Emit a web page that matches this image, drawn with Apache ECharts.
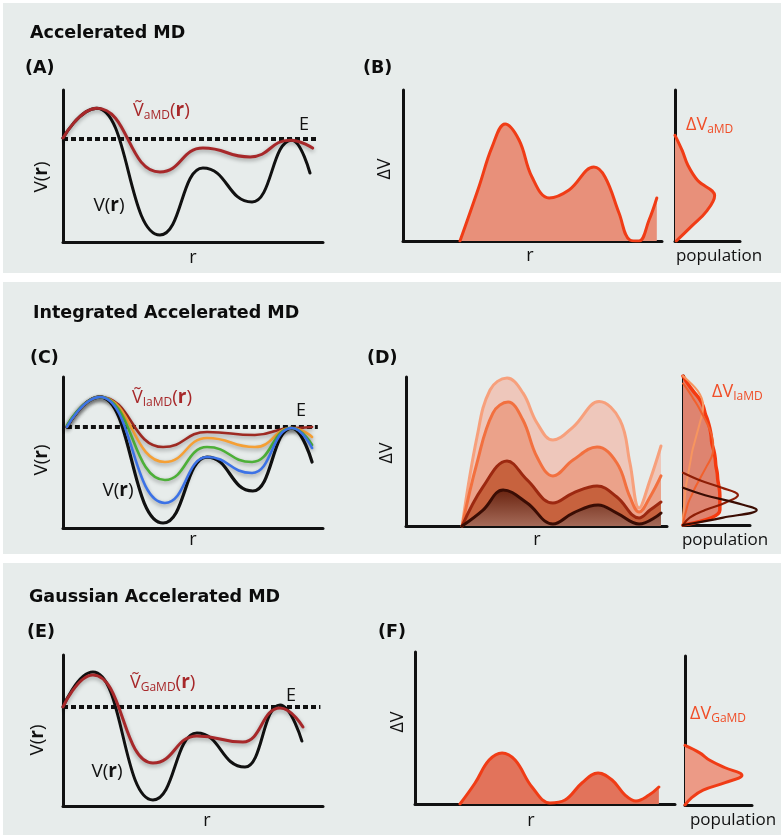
<!DOCTYPE html>
<html><head><meta charset="utf-8">
<script src="https://cdn.jsdelivr.net/npm/echarts@6/dist/echarts.min.js"></script>
<style>html,body{margin:0;padding:0;background:#fff}#c{width:784px;height:837px}</style>
</head><body><div id="c"></div>
<script>
// ---------- DATA (schematic values, axis units 0..100) ----------
// Panel A: Accelerated MD (extrema of the potential curves)
const aV    = [[0,68.4],[13,88],[37.3,4.6],[53.8,48.7],[72.7,26.3],[88,67],[95,45.4]];
const aAMD  = [[0,68.4],[13,88],[37.3,46],[53.8,61.8],[72,56],[87.3,67],[96,61.8]];
const aE    = [[0,67.8],[98,67.8]];
// Panel B: boost potential and its distribution
const bDV   = [[22,0],[29.3,35.8],[34.4,62.3],[39.4,77.5],[44.8,66.9],[49.8,42.4],[56.4,28.5],[64.1,33.8],[73.7,49],[78,42.4],[83.4,18.5],[87.6,0.7],[91.1,0],[95,13.9],[98,28.5]];
const bLevels = ['0','1','2','3','4','5','6','7','8','9','10'];
const bPop  = [2,26,49,61,35,20,11,0,null,null,null];
// Panel C: Integrated Accelerated MD
const cV      = [[1.5,66.9],[14.2,86.8],[38.5,3.3],[55.4,47],[73,24.5],[88,66.2],[95.8,43.7]];
const cBlue   = [[1.5,66.9],[14.2,86.8],[39.2,16.6],[55.4,47],[72.7,36.4],[88,66.2],[95.8,53]];
const cGreen  = [[1.5,68],[14.2,86.8],[39.2,31.8],[55.4,53.6],[72.7,43.7],[88,66.2],[95.8,55]];
const cOrange = [[1.5,66.9],[14.2,86.8],[39.2,43.7],[55.4,59.6],[73.8,53.6],[88,66.2],[95.8,60.3]];
const cRed    = [[1.5,66.9],[14.2,86.8],[38.5,53.6],[55.4,63.6],[73.8,61.6],[88,66.2],[95.8,66.9]];
const cE      = [[1.5,66.9],[98,66.9]];
// Panel D: stacked boost potentials and distributions
const dL1 = [[21.5,0],[27.2,59.7],[32.2,91.3],[38.7,99.3],[44.8,89.3],[50.2,69.1],[56.3,57.7],[64,66.4],[74,83.5],[82,71.1],[85.8,42.3],[89.3,12.1],[93.5,30.9],[97.7,53.7]];
const dL2 = [[21.5,0],[27.2,42.3],[33.3,75.8],[39.1,83.2],[44.8,71.1],[50.2,46.3],[56.3,33.6],[64,44.3],[73.2,53],[80.8,42.3],[85.8,19.5],[89.3,9.4],[93.5,19.5],[97.7,33.6]];
const dL3 = [[21.5,0],[29.5,26.2],[38.7,43.6],[46.4,30.9],[56.3,15.4],[64,22.1],[73.2,26.8],[80.8,19.5],[89.3,5.4],[93.5,10.7],[97.7,16.1]];
const dL4 = [[21.5,0],[29.5,10.7],[37.2,24.2],[46.4,15.4],[56.3,1.3],[64,8.7],[73.6,14.1],[80.8,8.7],[89.3,1.3],[97.7,8.7]];
const dLevels = ['0','1','2','3','4','5','6','7','8','9','10','11','12','13','14','15','16','17','18','19','20'];
const dPopAll = [0,43,55,55,55,54,52,51,49,48,46,43,42,40,37,33,30,24,15,7,0];
const dPop1   = [0,0,1,2,3,4,6,8,10,12,14,17,20,23,26,29,30,28,22,12,0];
const dPop2   = [0,2,5,8,13,18,24,30,36,42,45,45,43,39,34,28,22,15,8,0,null];
const dPop3   = [0,10,33,63,82,58,25,0,null,null,null,null,null,null,null,null,null,null,null,null,null];
const dPop4   = [0,60,110,78,33,0,null,null,null,null,null,null,null,null,null,null,null,null,null,null,null];
// Panel E: Gaussian Accelerated MD
const eV    = [[0,65.6],[11.5,88.7],[34.6,4],[51.5,48.3],[70,25.8],[83.5,66.9],[91.9,43]];
const eGaMD = [[0,65.6],[11.5,86.8],[34.6,28.5],[51.5,46.4],[69.2,42.4],[83.5,64.9],[92.3,52.3]];
const eE    = [[0,65.6],[99,65.6]];
// Panel F
const fDV   = [[17.3,0],[23.1,13.8],[28.5,28.9],[33.5,33.6],[38.5,28.9],[45,11.2],[51.9,0.7],[57.7,2.6],[64.2,13.8],[70.4,20.4],[75.8,15.8],[80.8,5.9],[85,2],[90,5.9],[93.8,11.2]];
const fLevels = ['0','1','2','3','4','5','6','7','8','9','10','11','12','13','14','15','16','17','18','19','20'];
const fPop  = [0,10,27,60,85,60,37,22,0,null,null,null,null,null,null,null,null,null,null,null,null];

// ---------- LAYOUT ----------
const grids = [
  {left:63,  top:90,  width:260, height:152}, // 0 A
  {left:403, top:90,  width:259, height:151}, // 1 B
  {left:675, top:90,  width:65,  height:151}, // 2 B pop
  {left:63,  top:377, width:260, height:151}, // 3 C
  {left:406, top:377, width:261, height:149}, // 4 D
  {left:683, top:376, width:67,  height:149}, // 5 D pop
  {left:63,  top:655, width:260, height:151}, // 6 E
  {left:415, top:652, width:260, height:152}, // 7 F
  {left:685, top:656, width:67,  height:149}  // 8 F pop
];
const popGrids = {2:bLevels, 5:dLevels, 8:fLevels};
const axLine = {show:true, onZero:false, lineStyle:{color:'#111', width:3}};
const xAxes = grids.map((g,i)=>({gridIndex:i, type:'value', min:0, max:100, axisLine:axLine,
  axisTick:{show:false}, axisLabel:{show:false}, splitLine:{show:false}}));
const yAxes = grids.map((g,i)=> popGrids[i]
  ? {gridIndex:i, type:'category', data:popGrids[i], boundaryGap:false, axisLine:axLine,
     axisTick:{show:false}, axisLabel:{show:false}, splitLine:{show:false}}
  : {gridIndex:i, type:'value', min:0, max:100, axisLine:axLine,
     axisTick:{show:false}, axisLabel:{show:false}, splitLine:{show:false}});

const shadow = {shadowColor:'rgba(0,0,0,0.35)', shadowBlur:4, shadowOffsetY:2};
function line(gi, data, color, width, extra) {
  extra = extra || {};
  const s = {type:'line', xAxisIndex:gi, yAxisIndex:gi, data:data, smooth:extra.smooth||0.4,
    symbol:'none', showSymbol:false, silent:true, animation:false,
    lineStyle:Object.assign({color:color, width:width, cap:'round', join:'round'}, extra.ls||{}),
    emphasis:{disabled:true}};
  if (extra.mono) s.smoothMonotone = 'x';
  if (extra.area) s.areaStyle = {color: extra.area, opacity: 1};
  if (extra.clip === false) s.clip = false;
  return s;
}
function wave(gi, data, color, width, withShadow) {
  return line(gi, data, color, width, {mono:true, smooth:0.5, ls: withShadow ? shadow : {}});
}
function dashed(gi, data) {
  return {type:'line', xAxisIndex:gi, yAxisIndex:gi, data:data, smooth:false, symbol:'none',
    showSymbol:false, silent:true, animation:false, emphasis:{disabled:true},
    lineStyle:{color:'#111', width:4, type:[5,3], cap:'butt'}};
}
const RED = '#A7282A', DVRED = '#F03C16';

const series = [
  // A
  dashed(0, aE),
  wave(0, aV, '#111', 3),
  wave(0, aAMD, RED, 3, true),
  // B
  line(1, bDV, DVRED, 3, {area:'#E8907A'}),
  line(2, bPop, DVRED, 3, {area:'#E8907A'}),
  // C
  dashed(3, cE),
  wave(3, cV, '#111', 3.2),
  wave(3, cRed, '#9E2A22', 2.6, true),
  wave(3, cOrange, '#F5A035', 2.6, true),
  wave(3, cGreen, '#4DB038', 2.6, true),
  wave(3, cBlue, '#3C72E6', 2.6, true),
  // D
  line(4, dL1, '#F7A07C', 3, {area:'#EEC7BB'}),
  line(4, dL2, '#F2703F', 3, {area:'#EBA28A'}),
  line(4, dL3, '#9C2810', 3, {area:'#C7623E'}),
  line(4, dL4, '#3A0D04', 3, {area:{type:'linear',x:0,y:0,x2:0,y2:1,colorStops:[{offset:0,color:'#6A2410'},{offset:1,color:'#A56A58'}]}}),
  line(5, dPopAll, '#F53A10', 3.5, {area:'#DE8470'}),
  line(5, dPop1, '#F7955F', 2, {clip:false}),
  line(5, dPop2, '#F2602C', 2, {clip:false}),
  line(5, dPop3, '#8E1E06', 2.2, {clip:false}),
  line(5, dPop4, '#3A0C02', 2.2, {clip:false}),
  // E
  dashed(6, eE),
  wave(6, eV, '#111', 3),
  wave(6, eGaMD, RED, 3, true),
  // F
  line(7, fDV, DVRED, 3, {area:'#E2735B'}),
  line(8, fPop, DVRED, 3, {area:'#EC9A86'})
];

// ---------- TEXT ----------
const SANS = '"Open Sans", "DejaVu Sans", sans-serif';
function txt(x, y, text, o) {
  o = o || {};
  return {type:'text', x:x, y:y, rotation:o.rot||0, z:100, silent:true,
    style:{text:text, fill:o.color||'#111', fontSize:o.size||18, fontFamily:o.family||SANS,
      fontWeight:o.weight||'normal', align:o.align||'center', verticalAlign:'middle', rich:o.rich}};
}
function richV(x, y, pre, sub, color, tail) {
  const rich = {
    v:{fontSize:18, fontFamily:SANS, fill:color},
    s:{fontSize:12, fontFamily:SANS, fill:color, padding:[10,0,0,0]},
    p:{fontSize:19, fontFamily:SANS, fill:color},
    b:{fontSize:19, fontFamily:SANS, fill:color, fontWeight:'bold'}
  };
  const t = '{v|' + pre + '}{s|' + sub + '}' + (tail ? '{p|(}{b|r}{p|)}' : '');
  return txt(x, y, t, {align:'left', color:color, rich:rich});
}
function vr(x, y, rot) {
  const rich = {p:{fontSize:19, fontFamily:SANS, fill:'#111'}, b:{fontSize:19, fontFamily:SANS, fill:'#111', fontWeight:'bold'}};
  return txt(x, y, '{p|V(}{b|r}{p|)}', {rich:rich, rot:rot||0});
}
const TB = {family:'"DejaVu Sans", sans-serif', weight:'bold', size:17.5, align:'left', color:'#0c0c0c'};
const DVC = '#F04E28';
const graphics = [
  {type:'rect', shape:{x:3, y:3, width:778, height:270}, style:{fill:'#E7ECEB'}, z:-10, silent:true},
  {type:'rect', shape:{x:3, y:282, width:778, height:272}, style:{fill:'#E7ECEB'}, z:-10, silent:true},
  {type:'rect', shape:{x:3, y:563, width:778, height:272}, style:{fill:'#E7ECEB'}, z:-10, silent:true},
  txt(30, 33, 'Accelerated MD', TB),
  txt(25, 68, '(A)', TB), txt(363, 68, '(B)', TB),
  txt(33, 313, 'Integrated Accelerated MD', TB),
  txt(30, 358, '(C)', TB), txt(367, 358, '(D)', TB),
  txt(29, 597, 'Gaussian Accelerated MD', TB),
  txt(27, 632, '(E)', TB), txt(378, 632, '(F)', TB),
  // A
  vr(42, 177, Math.PI/2), vr(109, 206), txt(193, 258, 'r', {size:18}), txt(304, 125, 'E', {size:18}),
  richV(133, 111, 'Ṽ', 'aMD', RED, true),
  // B
  txt(385, 169, 'ΔV', {size:18, rot:Math.PI/2}), txt(530, 256, 'r', {size:18}),
  txt(719, 256, 'population', {size:17}),
  richV(686, 125, 'ΔV', 'aMD', DVC, false),
  // C
  vr(42, 460, Math.PI/2), vr(118, 491), txt(193, 540, 'r', {size:18}), txt(301, 411, 'E', {size:18}),
  richV(132, 398, 'Ṽ', 'IaMD', RED, true),
  // D
  txt(387, 453, 'ΔV', {size:18, rot:Math.PI/2}), txt(537, 540, 'r', {size:18}),
  txt(725, 540, 'population', {size:17}),
  richV(712, 392, 'ΔV', 'IaMD', DVC, false),
  // E
  vr(38, 740, Math.PI/2), vr(107, 772), txt(207, 821, 'r', {size:18}), txt(291, 696, 'E', {size:18}),
  richV(130, 683, 'Ṽ', 'GaMD', RED, true),
  // F
  txt(398, 722, 'ΔV', {size:18, rot:Math.PI/2}), txt(531, 821, 'r', {size:18}),
  txt(733, 820, 'population', {size:17}),
  richV(690, 714, 'ΔV', 'GaMD', DVC, false)
];

const chart = echarts.init(document.getElementById('c'), null, {renderer:'canvas'});
chart.setOption({
  animation:false,
  backgroundColor:'#ffffff',
  grid: grids,
  xAxis: xAxes,
  yAxis: yAxes,
  series: series,
  graphic: {elements: graphics}
});
</script></body></html>
